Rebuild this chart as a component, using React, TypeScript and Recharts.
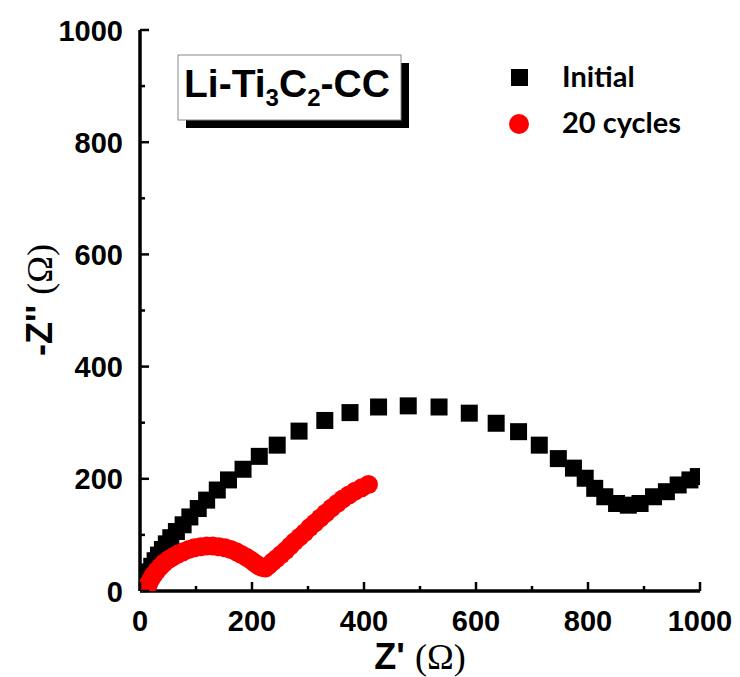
import React from 'react';
import { ScatterChart, Scatter, XAxis, YAxis } from 'recharts';

// Nyquist plot, Li-Ti3C2-CC: initial vs after 20 cycles (values in ohm)
const INITIAL_ZRE = [5, 8, 12, 16, 21, 27, 33, 40, 47, 55, 65, 77, 89, 104, 119, 138, 158, 184, 213, 245, 284, 330, 375, 426, 479, 534, 588, 636, 676, 713, 747, 774, 795, 812, 830, 851, 872, 893, 917, 940, 961, 982, 997];
const INITIAL_ZIM = [8, 16, 25, 34, 44, 54, 64, 74, 84, 95, 106, 118, 132, 147, 162, 180, 198, 217, 240, 260, 285, 304, 318, 328, 330, 328, 317, 299, 284, 260, 236, 219, 201, 183, 168, 156, 153, 156, 168, 177, 189, 198, 204];

const CYCLED_ZRE = [12, 15, 19, 24, 30, 36, 43, 51, 59, 68, 77, 87, 97, 108, 119, 130, 141, 152, 162, 172, 181, 190, 198, 205, 212, 218, 224, 230, 237, 244, 252, 260, 268, 276, 285, 294, 303, 312, 322, 332, 342, 352, 362, 373, 384, 396, 408];
const CYCLED_ZIM = [4, 12, 20, 28, 36, 43, 50, 56, 61, 66, 70, 74, 77, 79, 80, 80, 79, 77, 74, 70, 65, 60, 55, 50, 45, 42, 41, 46, 52, 58, 65, 72, 80, 88, 96, 104, 113, 121, 130, 139, 148, 156, 164, 171, 178, 184, 190];

const X_TICKS = [0, 100, 200, 300, 400, 500, 600, 700, 800, 900, 1000];
const Y_TICKS = [0, 100, 200, 300, 400, 500, 600, 700, 800, 900, 1000];

const initialData = INITIAL_ZRE.map((x, i) => ({ x, y: INITIAL_ZIM[i] }));
const cycledData = CYCLED_ZRE.map((x, i) => ({ x, y: CYCLED_ZIM[i] }));

const TICK_FONT = { fontFamily: '"Liberation Sans", Arial, sans-serif', fontWeight: 700, fontSize: 29, fill: '#000' };

function XTick({ x, y, payload }: any) {
  const major = payload.value % 200 === 0;
  return (
    <g>
      <line x1={x} x2={x} y1={y} y2={y - (major ? 9 : 5)} stroke="#000" strokeWidth={2.5} />
      {major && (
        <text x={x} y={y + 40} textAnchor="middle" {...TICK_FONT}>{payload.value}</text>
      )}
    </g>
  );
}

function YTick({ x, y, payload }: any) {
  const major = payload.value % 200 === 0;
  return (
    <g>
      <line x1={x} x2={x + (major ? 9 : 5)} y1={y} y2={y} stroke="#000" strokeWidth={2.5} />
      {major && (
        <text x={x - 17} y={y + 10.5} textAnchor="end" {...TICK_FONT}>{payload.value}</text>
      )}
    </g>
  );
}

const Square = ({ cx, cy }: any) => <rect x={cx - 8.5} y={cy - 8.5} width={17} height={17} fill="#000" />;
const Dot = ({ cx, cy }: any) => <circle cx={cx} cy={cy} r={9.5} fill="#ff0000" />;

const TITLE_FONT = { fontFamily: '"Liberation Sans", Arial, sans-serif', fontWeight: 700, fontSize: 36, fill: '#000' };
const OHM_FONT = { fontFamily: '"Liberation Serif", "Times New Roman", serif', fontWeight: 400 };
const LEGEND_FONT = { fontFamily: 'Lato, "Open Sans", sans-serif', fontWeight: 700, fontSize: 29, fill: '#000' };

export default function App() {
  return (
    <div style={{ position: 'absolute', left: 0, top: 0, width: 740, height: 677, background: '#fff' }}>
      <ScatterChart width={740} height={677} margin={{ top: 30, right: 40, bottom: 6, left: 0 }}>
        <XAxis
          xAxisId="b"
          type="number"
          dataKey="x"
          domain={[0, 1000]}
          ticks={X_TICKS}
          interval={0}
          allowDataOverflow
          height={80}
          tickSize={0}
          tickMargin={0}
          tickLine={false}
          axisLine={{ stroke: '#000', strokeWidth: 3.5 }}
          tick={<XTick />}
        />
        <XAxis xAxisId="t" orientation="top" type="number" domain={[0, 1000]} height={0} tick={false} tickLine={false} axisLine={{ stroke: '#000', strokeWidth: 2.5 }} />
        <YAxis
          yAxisId="l"
          type="number"
          dataKey="y"
          domain={[0, 1000]}
          ticks={Y_TICKS}
          interval={0}
          allowDataOverflow
          width={140}
          tickSize={0}
          tickMargin={0}
          tickLine={false}
          axisLine={{ stroke: '#000', strokeWidth: 3.5 }}
          tick={<YTick />}
        />
        <YAxis yAxisId="r" orientation="right" type="number" domain={[0, 1000]} width={0} tick={false} tickLine={false} axisLine={{ stroke: '#000', strokeWidth: 2.5 }} />
        <Scatter xAxisId="b" yAxisId="l" name="Initial" data={initialData} shape={<Square />} isAnimationActive={false} />
        <Scatter xAxisId="b" yAxisId="l" name="20 cycles" data={cycledData} shape={<Dot />} isAnimationActive={false} />
      </ScatterChart>

      <svg width={740} height={677} style={{ position: 'absolute', left: 0, top: 0, pointerEvents: 'none' }}>
        {/* axis titles */}
        <text x={420} y={669} textAnchor="middle" {...TITLE_FONT}>
          Z' <tspan {...OHM_FONT}>(Ω)</tspan>
        </text>
        <text x={0} y={0} transform="translate(52 300) rotate(-90)" textAnchor="middle" {...TITLE_FONT}>
          -Z'' <tspan {...OHM_FONT}>(Ω)</tspan>
        </text>

        {/* sample label box with drop shadow */}
        <rect x={186} y={63} width={223} height={65} fill="#000" />
        <rect x={178} y={55} width={223} height={65} fill="#fff" stroke="#888" strokeWidth={1} />
        <text x={184} y={97} fontFamily='"Liberation Sans", Arial, sans-serif' fontWeight={700} fontSize={39} fill="#000">
          Li-Ti<tspan fontSize={24} dy={9}>3</tspan><tspan dy={-9}>C</tspan><tspan fontSize={24} dy={9}>2</tspan><tspan dy={-9}>-CC</tspan>
        </text>

        {/* legend */}
        <rect x={511} y={69} width={17} height={17} fill="#000" />
        <text x={562} y={87} {...LEGEND_FONT}>Initial</text>
        <circle cx={519} cy={124} r={10} fill="#ff0000" />
        <text x={562} y={133} {...LEGEND_FONT}>20 cycles</text>
      </svg>
    </div>
  );
}
